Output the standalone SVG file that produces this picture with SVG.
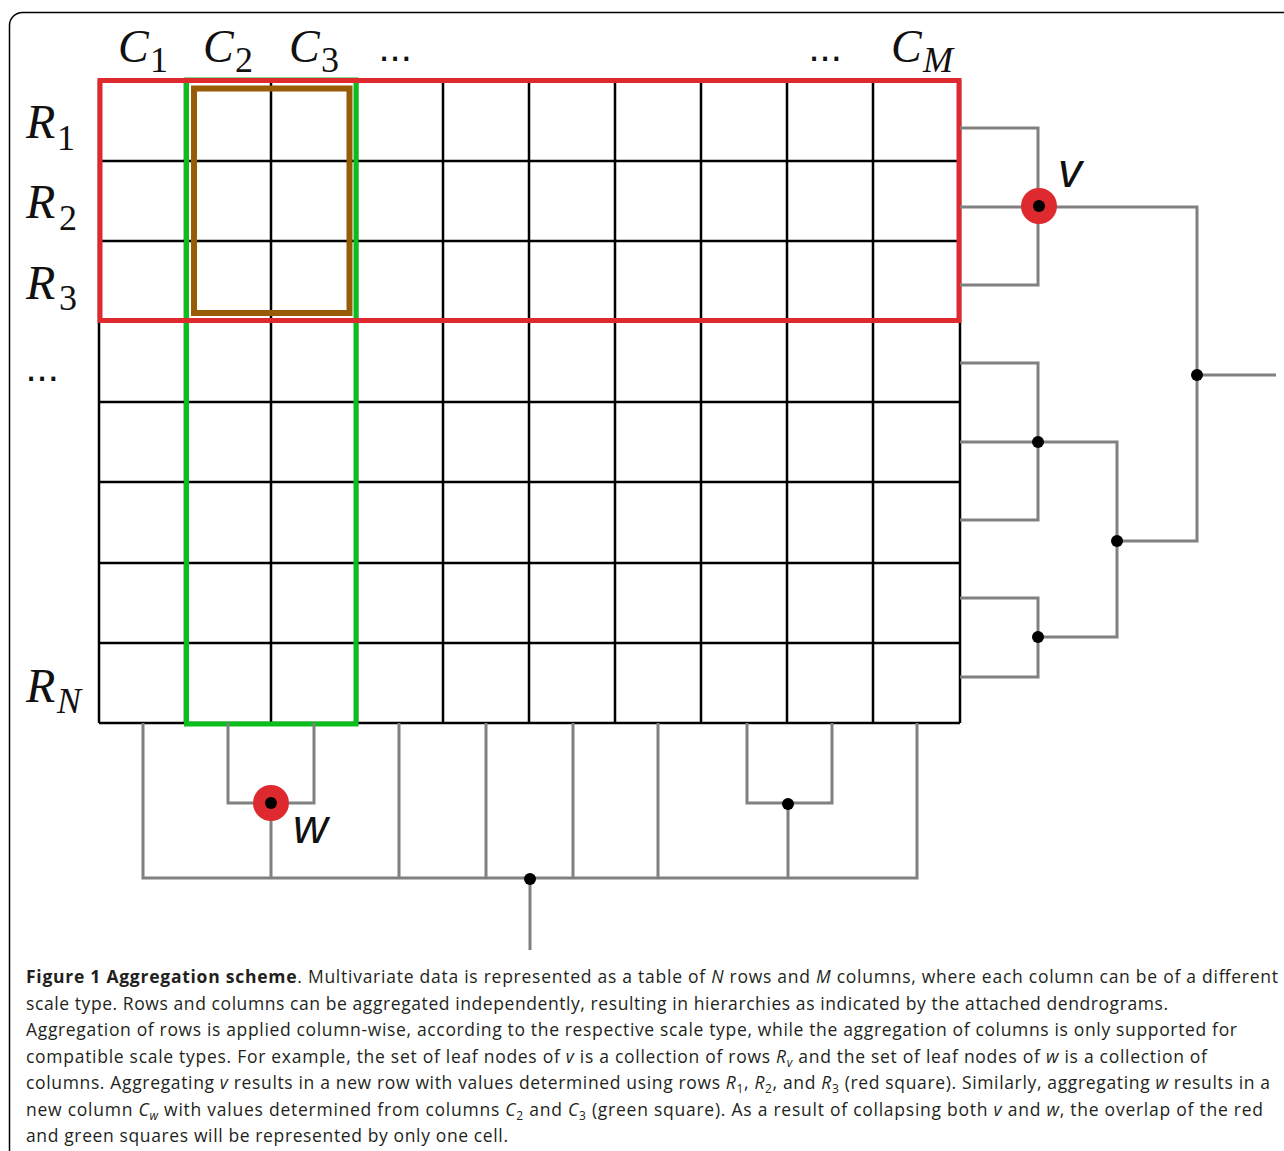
<svg xmlns="http://www.w3.org/2000/svg" width="1284" height="1151" viewBox="0 0 1284 1151">
<style>
.m{font-family:"Liberation Serif",serif;font-style:italic;font-size:48px;fill:#111}
.mc{font-family:"Liberation Serif",serif;font-style:italic;font-size:46px;fill:#111}
.s{font-family:"Liberation Serif",serif;font-size:36px;fill:#111}
.si{font-family:"Liberation Serif",serif;font-style:italic;font-size:36px;fill:#111}
.dots{font-family:"Liberation Sans",sans-serif;font-size:40px;fill:#111}
.lab{font-family:"Liberation Sans",sans-serif;font-style:italic;font-size:48px;fill:#111}
.cap{font-family:"Open Sans","Liberation Sans",sans-serif;font-size:17.5px;fill:#231f20}
.b{font-weight:bold}
.i{font-style:italic}
.grid{stroke:#000;stroke-width:2.5;fill:none}
.br{stroke:#808080;stroke-width:3;fill:none;stroke-linejoin:miter}
.nd{fill:#000}
.rn{fill:#de2a2f}
</style>
<rect x="9.5" y="12.5" width="1400" height="1300" rx="13" fill="#fff" stroke="#000" stroke-width="1.5"/>

<g id="grid">
<path class="grid" d="M99,80V723M185,80V723M271,80V723M357,80V723M443,80V723M529,80V723M615,80V723M701,80V723M787,80V723M873,80V723M960,80V723"/>
<path class="grid" d="M99,80H960M99,161H960M99,241H960M99,321H960M99,402H960M99,482H960M99,563H960M99,643H960M99,723H960"/>
</g>
<g id="green-square"><rect x="186.5" y="80" width="169.5" height="644" fill="none" stroke="#0abf1d" stroke-width="5"/></g>
<g id="red-square"><rect x="100" y="80.5" width="859" height="240" fill="none" stroke="#de2a2f" stroke-width="5"/></g>
<g id="overlap"><rect x="194" y="88.5" width="155.5" height="224.5" fill="none" stroke="#985b06" stroke-width="6"/></g>

<g id="col-labels">
<text class="mc" x="118" y="62">C</text><text class="s" x="150" y="72">1</text>
<text class="mc" x="203" y="62">C</text><text class="s" x="235" y="72">2</text>
<text class="mc" x="289" y="62">C</text><text class="s" x="321" y="72">3</text>
<text class="dots" x="378.5" y="60.5">...</text>
<text class="dots" x="808.5" y="60.5">...</text>
<text class="mc" x="891" y="62">C</text><text class="si" x="923" y="72">M</text>
</g>
<g id="row-labels">
<text class="m" x="26" y="138">R</text><text class="s" x="57" y="150">1</text>
<text class="m" x="26" y="218">R</text><text class="s" x="59" y="230">2</text>
<text class="m" x="26" y="299">R</text><text class="s" x="59" y="310">3</text>
<text class="dots" x="25.5" y="380.5">...</text>
<text class="m" x="26" y="702">R</text><text class="si" x="57" y="713">N</text>
</g>

<g id="connectors">
<path class="br" d="M960,128H1038V285H960"/>
<path class="br" d="M960,207H1197V541H1117"/>
<path class="br" d="M1197,375H1276"/>
<path class="br" d="M960,363H1038V520H960"/>
<path class="br" d="M960,442H1117V637H1038"/>
<path class="br" d="M960,598H1038V677H960"/>
<path class="br" d="M143,723V878H917V723"/>
<path class="br" d="M228,723V803H314V723"/>
<path class="br" d="M271,803V878"/>
<path class="br" d="M399,723V878M486,723V878M573,723V878M658,723V878"/>
<path class="br" d="M747,723V803H832V723"/>
<path class="br" d="M788,803V878"/>
<path class="br" d="M530,878V950"/>
</g>

<g id="node-v"><circle class="rn" cx="1039" cy="206" r="18"/><circle class="nd" cx="1039" cy="206" r="6"/><text class="lab" x="1058" y="187">v</text></g>
<g id="node-w"><circle class="rn" cx="271" cy="803" r="18"/><circle class="nd" cx="271" cy="803" r="6"/><text class="lab" x="293" y="843">w</text></g>
<g id="node-r1"><circle class="nd" cx="1038" cy="442" r="6"/></g>
<g id="node-r2"><circle class="nd" cx="1038" cy="637" r="6"/></g>
<g id="node-r3"><circle class="nd" cx="1117" cy="541" r="6"/></g>
<g id="node-r4"><circle class="nd" cx="1197" cy="375" r="6"/></g>
<g id="node-c1"><circle class="nd" cx="788" cy="804" r="6"/></g>
<g id="node-c2"><circle class="nd" cx="530" cy="879" r="6"/></g>

<g id="caption" class="cap">
<text x="26" y="983" textLength="1252"><tspan class="b">Figure 1 Aggregation scheme</tspan>. Multivariate data is represented as a table of <tspan class="i">N</tspan> rows and <tspan class="i">M</tspan> columns, where each column can be of a different</text>
<text x="26" y="1009.5" textLength="1142">scale type. Rows and columns can be aggregated independently, resulting in hierarchies as indicated by the attached dendrograms.</text>
<text x="26" y="1036" textLength="1211">Aggregation of rows is applied column-wise, according to the respective scale type, while the aggregation of columns is only supported for</text>
<text x="26" y="1062.5" textLength="1181">compatible scale types. For example, the set of leaf nodes of <tspan class="i">v</tspan> is a collection of rows <tspan class="i">R</tspan><tspan class="i" font-size="12" dy="4">v</tspan><tspan dy="-4"> and the set of leaf nodes of </tspan><tspan class="i">w</tspan> is a collection of</text>
<text x="26" y="1089" textLength="1244">columns. Aggregating <tspan class="i">v</tspan> results in a new row with values determined using rows <tspan class="i">R</tspan><tspan font-size="12" dy="4">1</tspan><tspan dy="-4">, </tspan><tspan class="i">R</tspan><tspan font-size="12" dy="4">2</tspan><tspan dy="-4">, and </tspan><tspan class="i">R</tspan><tspan font-size="12" dy="4">3</tspan><tspan dy="-4"> (red square). Similarly, aggregating </tspan><tspan class="i">w</tspan> results in a</text>
<text x="26" y="1115.5" textLength="1237">new column <tspan class="i">C</tspan><tspan class="i" font-size="12" dy="4">w</tspan><tspan dy="-4"> with values determined from columns </tspan><tspan class="i">C</tspan><tspan font-size="12" dy="4">2</tspan><tspan dy="-4"> and </tspan><tspan class="i">C</tspan><tspan font-size="12" dy="4">3</tspan><tspan dy="-4"> (green square). As a result of collapsing both </tspan><tspan class="i">v</tspan> and <tspan class="i">w</tspan>, the overlap of the red</text>
<text x="26" y="1142" textLength="482">and green squares will be represented by only one cell.</text>
</g>
</svg>
